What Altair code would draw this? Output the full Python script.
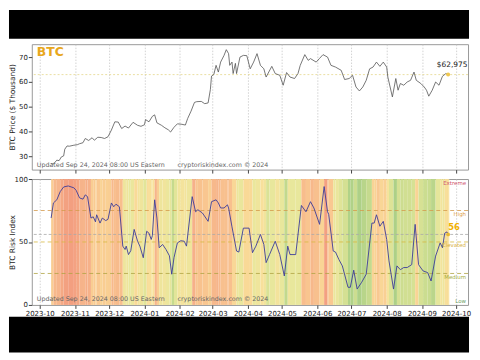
import altair as alt
import pandas as pd
import numpy as np

# ---------------- data ----------------
price_dates = [
    "2023-10-11", "2023-10-13", "2023-10-16", "2023-10-18", "2023-10-20", "2023-10-22", "2023-10-23",
    "2023-10-25", "2023-10-27", "2023-10-31", "2023-11-03", "2023-11-05", "2023-11-08", "2023-11-10",
    "2023-11-13", "2023-11-16", "2023-11-18", "2023-11-21", "2023-11-24", "2023-11-27", "2023-11-30",
    "2023-12-03", "2023-12-06", "2023-12-09", "2023-12-12", "2023-12-15", "2023-12-18", "2023-12-22",
    "2023-12-26", "2023-12-29", "2024-01-01", "2024-01-02", "2024-01-05", "2024-01-08", "2024-01-10",
    "2024-01-12", "2024-01-16", "2024-01-19", "2024-01-22", "2024-01-24", "2024-01-27", "2024-01-30",
    "2024-02-03", "2024-02-06", "2024-02-08", "2024-02-11", "2024-02-14", "2024-02-16", "2024-02-20",
    "2024-02-23", "2024-02-26", "2024-02-28", "2024-02-29", "2024-03-02", "2024-03-04", "2024-03-06",
    "2024-03-08", "2024-03-11", "2024-03-13", "2024-03-15", "2024-03-16", "2024-03-18", "2024-03-19",
    "2024-03-21", "2024-03-22", "2024-03-25", "2024-03-28", "2024-03-31", "2024-04-03", "2024-04-06",
    "2024-04-09", "2024-04-12", "2024-04-15", "2024-04-17", "2024-04-22", "2024-04-25", "2024-04-29",
    "2024-05-02", "2024-05-05", "2024-05-08", "2024-05-12", "2024-05-15", "2024-05-17", "2024-05-21",
    "2024-05-24", "2024-05-26", "2024-05-31", "2024-06-03", "2024-06-06", "2024-06-10", "2024-06-13",
    "2024-06-17", "2024-06-22", "2024-06-25", "2024-06-29", "2024-07-02", "2024-07-05", "2024-07-08",
    "2024-07-11", "2024-07-14", "2024-07-17", "2024-07-20", "2024-07-23", "2024-07-26", "2024-07-29",
    "2024-08-01", "2024-08-02", "2024-08-04", "2024-08-06", "2024-08-09", "2024-08-11", "2024-08-13",
    "2024-08-16", "2024-08-19", "2024-08-22", "2024-08-25", "2024-08-27", "2024-08-31", "2024-09-03",
    "2024-09-05", "2024-09-07", "2024-09-10", "2024-09-13", "2024-09-16", "2024-09-19", "2024-09-22",
    "2024-09-24",
]
price_k = [
    27.3, 27.0, 28.6, 28.4, 29.9, 30.3, 33.0,
    34.3, 34.2, 34.6, 34.8, 35.2, 35.6, 37.3,
    36.5, 37.6, 36.6, 37.8, 37.7, 37.3, 38.0,
    40.7, 44.0, 43.9, 41.3, 42.3, 41.5, 43.8,
    42.6, 42.2, 42.8, 44.9, 44.0, 46.2, 46.8,
    43.6, 42.6, 41.6, 40.8, 39.9, 41.8, 43.2,
    43.0, 42.7, 45.3, 48.3, 51.8, 52.1, 52.2,
    51.3, 51.6, 57.0, 62.4, 63.0, 66.7, 64.0,
    68.0, 70.7, 73.0, 71.4, 66.7, 68.0, 63.4,
    67.5, 63.4, 70.0, 70.7, 70.6, 65.3, 68.0,
    71.4, 66.7, 65.3, 62.0, 66.3, 63.4, 62.7,
    58.7, 63.8, 62.0, 61.4, 63.4, 66.7, 71.0,
    68.7, 69.4, 68.0, 69.5, 71.0, 70.0, 66.7,
    66.0, 64.7, 61.0, 61.4, 62.7, 58.0, 56.4,
    58.0, 60.7, 65.3, 66.0, 68.0, 66.3, 68.0,
    66.0, 62.0, 58.0, 54.0, 61.4, 56.7, 59.4,
    58.7, 60.0, 60.7, 64.0, 60.7, 59.4, 58.0,
    56.7, 54.3, 56.7, 60.0, 58.7, 62.3, 63.4,
    62.975,
]

risk_dates = [
    "2023-10-11", "2023-10-13", "2023-10-16", "2023-10-19", "2023-10-22", "2023-10-26", "2023-10-31",
    "2023-11-02", "2023-11-05", "2023-11-08", "2023-11-10", "2023-11-12", "2023-11-15", "2023-11-17",
    "2023-11-19", "2023-11-20", "2023-11-23", "2023-11-25", "2023-11-28", "2023-11-30", "2023-12-03",
    "2023-12-05", "2023-12-07", "2023-12-10", "2023-12-13", "2023-12-15", "2023-12-16", "2023-12-18",
    "2023-12-20", "2023-12-23", "2023-12-26", "2023-12-28", "2023-12-31", "2024-01-03", "2024-01-05",
    "2024-01-07", "2024-01-08", "2024-01-10", "2024-01-12", "2024-01-14", "2024-01-17", "2024-01-20",
    "2024-01-23", "2024-01-25", "2024-01-27", "2024-01-30", "2024-02-02", "2024-02-05", "2024-02-07",
    "2024-02-12", "2024-02-15", "2024-02-17", "2024-02-21", "2024-02-26", "2024-02-29", "2024-03-04",
    "2024-03-06", "2024-03-08", "2024-03-11", "2024-03-14", "2024-03-15", "2024-03-18", "2024-03-22",
    "2024-03-24", "2024-03-28", "2024-04-02", "2024-04-05", "2024-04-08", "2024-04-12", "2024-04-15",
    "2024-04-17", "2024-04-20", "2024-04-25", "2024-04-29", "2024-05-03", "2024-05-06", "2024-05-08",
    "2024-05-13", "2024-05-18", "2024-05-22", "2024-05-26", "2024-05-29", "2024-06-03", "2024-06-07",
    "2024-06-10", "2024-06-11", "2024-06-15", "2024-06-17", "2024-06-20", "2024-06-23", "2024-06-28",
    "2024-06-30", "2024-07-03", "2024-07-06", "2024-07-10", "2024-07-14", "2024-07-19", "2024-07-21",
    "2024-07-23", "2024-07-26", "2024-07-29", "2024-08-01", "2024-08-03", "2024-08-07", "2024-08-10",
    "2024-08-13", "2024-08-16", "2024-08-19", "2024-08-23", "2024-08-26", "2024-08-29", "2024-09-02",
    "2024-09-06", "2024-09-09", "2024-09-13", "2024-09-17", "2024-09-19", "2024-09-21", "2024-09-23",
    "2024-09-24",
]
risk_vals = [
    69, 81, 83.5, 90, 93.7, 94.5, 93,
    91, 85, 84, 87.4, 86, 69, 70,
    66, 71.6, 65, 69, 67, 68, 81,
    78, 80, 78, 46.7, 44, 46.7, 40,
    43, 60, 50.6, 46.7, 37.5, 58.5, 57,
    52, 55, 83.5, 69, 45.4, 48, 44,
    39, 24.4, 37.5, 49.3, 51, 50.6, 46.7,
    86, 74, 75.6, 73, 66.4, 82, 83.5,
    81, 77, 77, 79.5, 77, 62, 42.8,
    42, 61, 61, 41.5, 46.7, 56, 48,
    33.6, 40, 50.6, 40, 23, 46.7, 40,
    40, 79, 74, 82, 77, 64, 94,
    74, 72, 42.8, 42, 36, 31, 14,
    14, 27.6, 12.6, 18, 24.4, 65, 65,
    71.6, 62.5, 66.4, 52, 35, 12.6, 31,
    28, 29.7, 29.7, 32, 64, 32, 27,
    25.7, 19, 38.8, 49.3, 45.4, 57, 58,
    56,
]

month_ticks = ["2023-10", "2023-11", "2023-12", "2024-01", "2024-02", "2024-03", "2024-04",
               "2024-05", "2024-06", "2024-07", "2024-08", "2024-09", "2024-10"]
price_ticks = [30, 40, 50, 60, 70]
risk_ticks = [0, 25, 50, 75, 100]
zone_levels = [100, 75, 50, 25, 0]
zone_names = ["Extreme", "High", "Elevated", "Medium", "Low"]
zone_colors = ["#d0566e", "#e0a04c", "#d8b03a", "#a4ac3c", "#6f9f6a"]
dash_levels = [75, 50, 25]
dash_colors = ["#d49a4c", "#d8b840", "#b0a444"]
last_price_usd = 62975
last_risk = 56
updated_text = "Updated Sep 24, 2024 08:00 US Eastern"
site_text = "cryptoriskindex.com \u00a9 2024"
coin = "BTC"

# ---------------- layout / style ----------------
W, H = 440, 127
FONT = "DejaVu Sans"
xdom = [alt.DateTime(year=2023, month=9, date=24),
        alt.DateTime(year=2024, month=10, date=11, hours=12)]
tick_vals = [alt.DateTime(year=int(s[:4]), month=int(s[5:]), date=1) for s in month_ticks]
xscale = alt.Scale(domain=xdom)

price_df = pd.DataFrame({"date": pd.to_datetime(price_dates), "price": price_k})
last_price_df = price_df.tail(1).copy()
last_price_df["label"] = f"${last_price_usd:,}"
last_price_df["price"] = last_price_usd / 1000

risk_df = pd.DataFrame({"date": pd.to_datetime(risk_dates), "risk": risk_vals})
risk_df["next"] = risk_df["date"].shift(-1)
risk_df.loc[risk_df.index[-1], "next"] = risk_df["date"].iloc[-1] + pd.Timedelta(days=1)
last_risk_df = risk_df.tail(1)[["date"]].copy()
last_risk_df["risk"] = last_risk
last_risk_df["label"] = str(last_risk)

zone_df = pd.DataFrame({"level": zone_levels, "name": zone_names, "color": zone_colors})
zone_df["ypos"] = np.clip(zone_df["level"] - 2.8, 2.8, None)
dash_df = pd.DataFrame({"level": dash_levels, "color": dash_colors})
one = pd.DataFrame({"k": [0]})

# ---------------- top panel ----------------
x_top = alt.X("date:T", scale=xscale,
              axis=alt.Axis(values=tick_vals, labels=False, title=None, grid=True))
y_price = alt.Y("price:Q", scale=alt.Scale(domain=[24.8, 75.2], nice=False, zero=False),
                axis=alt.Axis(values=price_ticks, title="BTC Price ($ Thousand)", titleX=-19,
                              titleBaseline="middle", grid=False))

bar_top = alt.Chart(one).mark_rect(color="black").encode(
    x=alt.value(-23), x2=alt.value(441), y=alt.value(-34.5), y2=alt.value(-5.5))
price_line = alt.Chart(price_df).mark_line(color="#555555", strokeWidth=0.8).encode(x=x_top, y=y_price)
price_rule = alt.Chart(last_price_df).mark_rule(color="#e6d88c", strokeDash=[2, 2], strokeWidth=0.8).encode(y=y_price)
price_dot = alt.Chart(last_price_df).mark_point(filled=True, color="#f0c850", size=16, opacity=1).encode(x=x_top, y=y_price)
price_lbl = alt.Chart(last_price_df).mark_text(font=FONT, fontSize=7.5, color="#222222", dx=4, dy=-10,
                                              align="center", baseline="middle").encode(
    x=x_top, y=y_price, text="label:N")
coin_lbl = alt.Chart(one).mark_text(font=FONT, fontSize=12.5, fontWeight="bold", color="#e8a71c",
                                    align="left", baseline="middle").encode(
    x=alt.value(5), y=alt.value(7.5), text=alt.value(coin))
upd_top = alt.Chart(one).mark_text(font=FONT, fontSize=6.4, color="#666666", align="left", baseline="middle").encode(
    x=alt.value(5), y=alt.value(H - 5.5), text=alt.value(updated_text))
site_top = alt.Chart(one).mark_text(font=FONT, fontSize=6.4, color="#666666", align="left", baseline="middle").encode(
    x=alt.value(147), y=alt.value(H - 5.5), text=alt.value(site_text))

top = alt.layer(bar_top, price_rule, price_line, price_dot, price_lbl, coin_lbl, upd_top, site_top).properties(
    width=W, height=H - 0.5)

# ---------------- bottom panel ----------------
x_bot = alt.X("date:T", scale=xscale,
              axis=alt.Axis(values=tick_vals, format="%Y-%m", title=None, grid=True, labelPadding=1))
y_risk = alt.Y("risk:Q", scale=alt.Scale(domain=[0, 100], nice=False),
               axis=alt.Axis(values=risk_ticks, title="BTC Risk Index", titleX=-19,
                             titleBaseline="middle", grid=False))

stripes = alt.Chart(risk_df).mark_rect(opacity=1).encode(
    x=x_bot, x2="next:T",
    color=alt.Color("risk:Q", legend=None,
                    scale=alt.Scale(domain=[10, 25, 40, 55, 70, 85, 95],
                                    range=["#a8ce86", "#c6db8e", "#e8e79c", "#f8e29c",
                                           "#f9cb92", "#f6b38a", "#f39e80"])))
dash_rules = alt.Chart(dash_df).mark_rule(strokeDash=[4, 3], strokeWidth=0.8).encode(
    y=alt.Y("level:Q", scale=alt.Scale(domain=[0, 100], nice=False)),
    color=alt.Color("color:N", scale=None))
cur_rule = alt.Chart(last_risk_df).mark_rule(color="#aaaaaa", strokeDash=[3, 2], strokeWidth=0.8).encode(y=y_risk)
risk_line = alt.Chart(risk_df).mark_line(color="#3b3b9a", strokeWidth=0.9).encode(x=x_bot, y=y_risk)
risk_dot = alt.Chart(last_risk_df).mark_point(filled=True, color="#e8b830", size=14, opacity=1).encode(x=x_bot, y=y_risk)
risk_lbl = alt.Chart(last_risk_df).mark_text(font=FONT, fontSize=8.5, fontWeight="bold", color="#f0b000",
                                            align="left", baseline="middle", dx=0, dy=-7).encode(
    x=x_bot, y=y_risk, text="label:N")
zone_lbl = alt.Chart(zone_df).mark_text(font=FONT, fontSize=5.5, align="right", baseline="middle").encode(
    x=alt.value(438), y=alt.Y("ypos:Q", scale=alt.Scale(domain=[0, 100], nice=False)),
    text="name:N", color=alt.Color("color:N", scale=None))
upd_bot = alt.Chart(one).mark_text(font=FONT, fontSize=6.4, color="#666666", align="left", baseline="middle").encode(
    x=alt.value(5), y=alt.value(H - 6), text=alt.value(updated_text))
site_bot = alt.Chart(one).mark_text(font=FONT, fontSize=6.4, color="#666666", align="left", baseline="middle").encode(
    x=alt.value(147), y=alt.value(H - 6), text=alt.value(site_text))
bar_bot = alt.Chart(one).mark_rect(color="black").encode(
    x=alt.value(-23), x2=alt.value(441), y=alt.value(H + 12), y2=alt.value(H + 48))

bottom = alt.layer(stripes, dash_rules, cur_rule, risk_line, risk_dot, risk_lbl, zone_lbl,
                   upd_bot, site_bot, bar_bot).properties(width=W, height=H)

chart = alt.vconcat(top, bottom, spacing=0).properties(
    padding=0, background="white"
).configure_view(stroke="#999999", strokeWidth=1).configure_axis(
    labelFont=FONT, titleFont=FONT, labelFontSize=7, titleFontSize=7.5, titleFontWeight="normal",
    labelColor="#222222", titleColor="#222222", tickColor="#444444", tickSize=3.5, labelPadding=1,
    domain=False, gridColor="#c8c8c8", gridDash=[1.5, 1.5], gridWidth=0.8, zindex=1
)

chart.save("out.html", embed_options={"renderer": "svg", "actions": False})
